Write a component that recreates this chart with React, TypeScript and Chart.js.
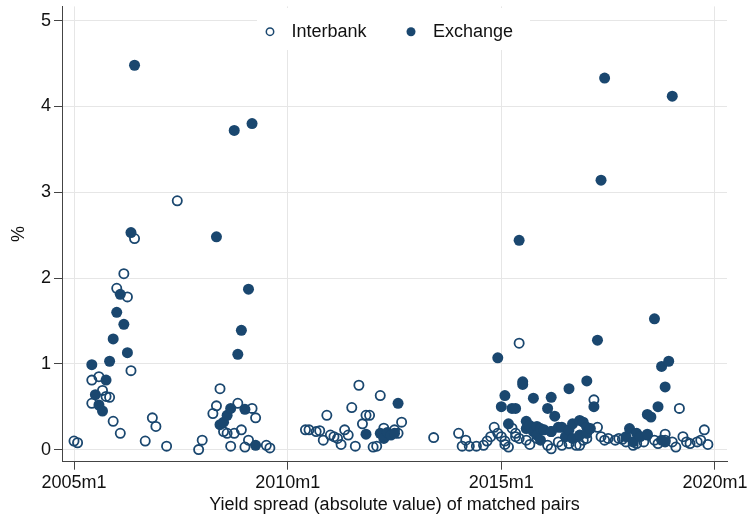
import { useEffect, useRef } from "react";
import { Chart, registerables } from "chart.js";

Chart.register(...registerables);

const NAVY = "#1a476f";
const FONT = "'Liberation Sans', Arial, Helvetica, sans-serif";

const xTickLabels = ["2005m1", "2010m1", "2015m1", "2020m1"];
const yTickValues = [0, 1, 2, 3, 4, 5];
const seriesNames = ["Interbank", "Exchange"];

const interbankDates = [
  "2005m1", "2005m2", "2005m6", "2005m6", "2005m8", "2005m9", "2005m10", "2005m11", "2005m12",
  "2006m1", "2006m2", "2006m3", "2006m4", "2006m5", "2006m6", "2006m9", "2006m11", "2006m12",
  "2007m3", "2007m6", "2007m12", "2008m1", "2008m4", "2008m5", "2008m6", "2008m7", "2008m8",
  "2008m9", "2008m10", "2008m11", "2008m12", "2009m1", "2009m2", "2009m3", "2009m4", "2009m7",
  "2009m8", "2010m6", "2010m7", "2010m9", "2010m10", "2010m11", "2010m12", "2011m1", "2011m2",
  "2011m3", "2011m4", "2011m5", "2011m6", "2011m7", "2011m8", "2011m9", "2011m10", "2011m11",
  "2011m12", "2012m1", "2012m2", "2012m3", "2012m4", "2012m7", "2012m8", "2012m9", "2013m6",
  "2014m1", "2014m2", "2014m3", "2014m4", "2014m6", "2014m8", "2014m9", "2014m10", "2014m11",
  "2014m12", "2015m1", "2015m2", "2015m2", "2015m3", "2015m4", "2015m5", "2015m5", "2015m6",
  "2015m6", "2015m8", "2015m9", "2015m11", "2016m2", "2016m3", "2016m3", "2016m5", "2016m6",
  "2016m8", "2016m10", "2016m11", "2016m12", "2017m1", "2017m3", "2017m4", "2017m5", "2017m6",
  "2017m7", "2017m9", "2017m10", "2017m11", "2017m12", "2018m2", "2018m3", "2018m5", "2018m6",
  "2018m8", "2018m9", "2018m11", "2018m11", "2019m1", "2019m2", "2019m3", "2019m4", "2019m5",
  "2019m6", "2019m8", "2019m9", "2019m10", "2019m11",
];
const interbankValues = [
  0.10, 0.08, 0.81, 0.54, 0.85, 0.69, 0.62, 0.61, 0.33,
  1.88, 0.19, 2.05, 1.78, 0.92, 2.46, 0.10, 0.37, 0.27,
  0.04, 2.90, 0.00, 0.11, 0.42, 0.51, 0.71, 0.21, 0.19,
  0.04, 0.19, 0.54, 0.23, 0.03, 0.11, 0.48, 0.37, 0.05,
  0.02, 0.23, 0.23, 0.21, 0.22, 0.11, 0.40, 0.17, 0.15,
  0.13, 0.06, 0.23, 0.17, 0.49, 0.04, 0.75, 0.30, 0.40,
  0.40, 0.03, 0.04, 0.63, 0.25, 0.23, 0.19, 0.32, 0.14,
  0.19, 0.04, 0.11, 0.04, 0.04, 0.05, 0.10, 0.15, 0.26,
  0.19, 0.15, 0.10, 0.06, 0.03, 0.25, 0.19, 0.15, 1.24,
  0.13, 0.11, 0.06, 0.13, 0.05, 0.01, 0.21, 0.09, 0.05,
  0.07, 0.05, 0.05, 0.11, 0.13, 0.58, 0.26, 0.15, 0.11,
  0.13, 0.11, 0.13, 0.12, 0.09, 0.05, 0.07, 0.09, 0.17,
  0.11, 0.07, 0.18, 0.11, 0.09, 0.03, 0.48, 0.15, 0.09,
  0.07, 0.09, 0.11, 0.23, 0.06,
];

const exchangeDates = [
  "2005m6", "2005m7", "2005m8", "2005m9", "2005m10", "2005m11", "2005m12", "2006m1", "2006m2",
  "2006m3", "2006m4", "2006m5", "2006m6", "2008m5", "2008m6", "2008m7", "2008m8", "2008m9",
  "2008m10", "2008m11", "2008m12", "2009m1", "2009m2", "2009m3", "2009m4", "2011m11", "2012m3",
  "2012m4", "2012m5", "2012m6", "2012m7", "2012m8", "2014m12", "2015m1", "2015m2", "2015m3",
  "2015m4", "2015m5", "2015m6", "2015m7", "2015m7", "2015m8", "2015m8", "2015m9", "2015m10",
  "2015m10", "2015m11", "2015m11", "2015m12", "2015m12", "2016m1", "2016m2", "2016m3", "2016m3",
  "2016m4", "2016m5", "2016m6", "2016m7", "2016m8", "2016m8", "2016m9", "2016m9", "2016m11",
  "2016m11", "2016m12", "2017m1", "2017m1", "2017m1", "2017m2", "2017m3", "2017m4", "2017m5",
  "2017m6", "2017m12", "2018m1", "2018m2", "2018m3", "2018m4", "2018m6", "2018m6", "2018m7",
  "2018m8", "2018m9", "2018m10", "2018m10", "2018m11", "2018m11", "2018m12", "2019m1",
];
const exchangeValues = [
  0.99, 0.64, 0.52, 0.45, 0.81, 1.03, 1.29, 1.60, 1.81,
  1.46, 1.13, 2.53, 4.48, 2.48, 0.29, 0.32, 0.40, 0.48,
  3.72, 1.11, 1.39, 0.47, 1.87, 3.80, 0.05, 0.18, 0.19,
  0.13, 0.20, 0.17, 0.19, 0.54, 1.07, 0.50, 0.63, 0.30,
  0.48, 0.48, 2.44, 0.79, 0.76, 0.33, 0.245, 0.28, 0.60,
  0.21, 0.27, 0.17, 0.245, 0.11, 0.23, 0.48, 0.61, 0.21,
  0.39, 0.26, 0.26, 0.15, 0.71, 0.23, 0.30, 0.13, 0.34,
  0.17, 0.32, 0.80, 0.26, 0.19, 0.245, 0.50, 1.275, 3.14,
  4.33, 0.15, 0.245, 0.09, 0.19, 0.15, 0.41, 0.18, 0.38,
  1.525, 0.50, 0.97, 0.11, 0.73, 0.09, 1.03, 4.12,
];

function monthIndex(s: string): number {
  const [y, m] = s.split("m").map(Number);
  return (y - 2005) * 12 + (m - 1);
}

const xTickValues = xTickLabels.map(monthIndex);

const legendPlugin = {
  id: "insideLegend",
  beforeDatasetsDraw(chart: any) {
    const ctx = chart.ctx;
    ctx.save();
    ctx.fillStyle = "#ffffff";
    ctx.fillRect(257, 8, 273, 42);
    ctx.beginPath();
    ctx.arc(270, 31.7, 3.7, 0, Math.PI * 2);
    ctx.strokeStyle = NAVY;
    ctx.lineWidth = 1.5;
    ctx.stroke();
    ctx.beginPath();
    ctx.arc(411, 31.7, 4.5, 0, Math.PI * 2);
    ctx.fillStyle = NAVY;
    ctx.fill();
    ctx.fillStyle = "#111111";
    ctx.font = `18px ${FONT}`;
    ctx.textBaseline = "middle";
    ctx.textAlign = "left";
    ctx.fillText(seriesNames[0], 291.5, 32);
    ctx.fillText(seriesNames[1], 433, 32);
    ctx.restore();
  },
};

export default function App() {
  const ref = useRef<HTMLCanvasElement | null>(null);

  useEffect(() => {
    document.body.style.margin = "0";
    const canvas = ref.current;
    if (!canvas) return;
    const chart = new Chart(canvas, {
      type: "scatter",
      data: {
        datasets: [
          {
            label: seriesNames[0],
            data: interbankDates.map((d, i) => ({ x: monthIndex(d), y: interbankValues[i] })),
            pointStyle: "circle",
            pointRadius: 4.6,
            pointBorderWidth: 1.8,
            borderColor: NAVY,
            backgroundColor: "rgba(255,255,255,0)",
            order: 1,
          },
          {
            label: seriesNames[1],
            data: exchangeDates.map((d, i) => ({ x: monthIndex(d), y: exchangeValues[i] })),
            pointStyle: "circle",
            pointRadius: 5.5,
            pointBorderWidth: 0,
            borderColor: NAVY,
            backgroundColor: NAVY,
            order: 0,
          },
        ],
      },
      options: {
        responsive: false,
        animation: false,
        events: [],
        devicePixelRatio: 1,
        layout: { padding: { top: 3, right: 20, left: 0, bottom: 0 } },
        plugins: {
          legend: { display: false },
          tooltip: { enabled: false },
        },
        scales: {
          x: {
            type: "linear",
            min: -3.37,
            max: 183.37,
            afterBuildTicks: (scale: any) => {
              scale.ticks = xTickValues.map((v) => ({ value: v }));
            },
            afterFit: (scale: any) => {
              scale.height = 54.3;
              scale.paddingLeft = 0;
              scale.paddingRight = 0;
              scale.paddingTop = 0;
              scale.paddingBottom = 0;
            },
            ticks: {
              autoSkip: false,
              maxRotation: 0,
              padding: 2.5,
              color: "#111111",
              font: { family: FONT, size: 18 },
              callback: (value: any) => {
                const i = xTickValues.indexOf(Number(value));
                return i >= 0 ? xTickLabels[i] : "";
              },
            },
            grid: {
              color: "#e6e6e6",
              lineWidth: 1,
              drawTicks: true,
              tickLength: 8,
              tickColor: "#444444",
              tickWidth: 1,
            },
            border: { display: true, color: "#444444", width: 1 },
            title: {
              display: true,
              text: "Yield spread (absolute value) of matched pairs",
              color: "#111111",
              font: { family: FONT, size: 18 },
              padding: { top: 0, bottom: 0 },
            },
          },
          y: {
            type: "linear",
            min: -0.141,
            max: 5.166,
            afterBuildTicks: (scale: any) => {
              scale.ticks = yTickValues.map((v) => ({ value: v }));
            },
            afterFit: (scale: any) => {
              scale.width = 62;
              scale.paddingLeft = 0;
              scale.paddingRight = 0;
              scale.paddingTop = 0;
              scale.paddingBottom = 0;
            },
            ticks: {
              padding: 3,
              color: "#111111",
              font: { family: FONT, size: 18 },
              callback: (value: any) => String(value),
            },
            grid: {
              color: "#e6e6e6",
              lineWidth: 1,
              drawTicks: true,
              tickLength: 8,
              tickColor: "#444444",
              tickWidth: 1,
            },
            border: { display: true, color: "#444444", width: 1 },
            title: {
              display: true,
              text: "%",
              color: "#111111",
              font: { family: FONT, size: 18 },
              padding: { top: 8, bottom: 0 },
            },
          },
        },
      },
      plugins: [legendPlugin],
    });
    return () => chart.destroy();
  }, []);

  return (
    <div style={{ width: 747, height: 516 }}>
      <canvas ref={ref} width={747} height={516} style={{ display: "block", width: 747, height: 516 }} />
    </div>
  );
}
